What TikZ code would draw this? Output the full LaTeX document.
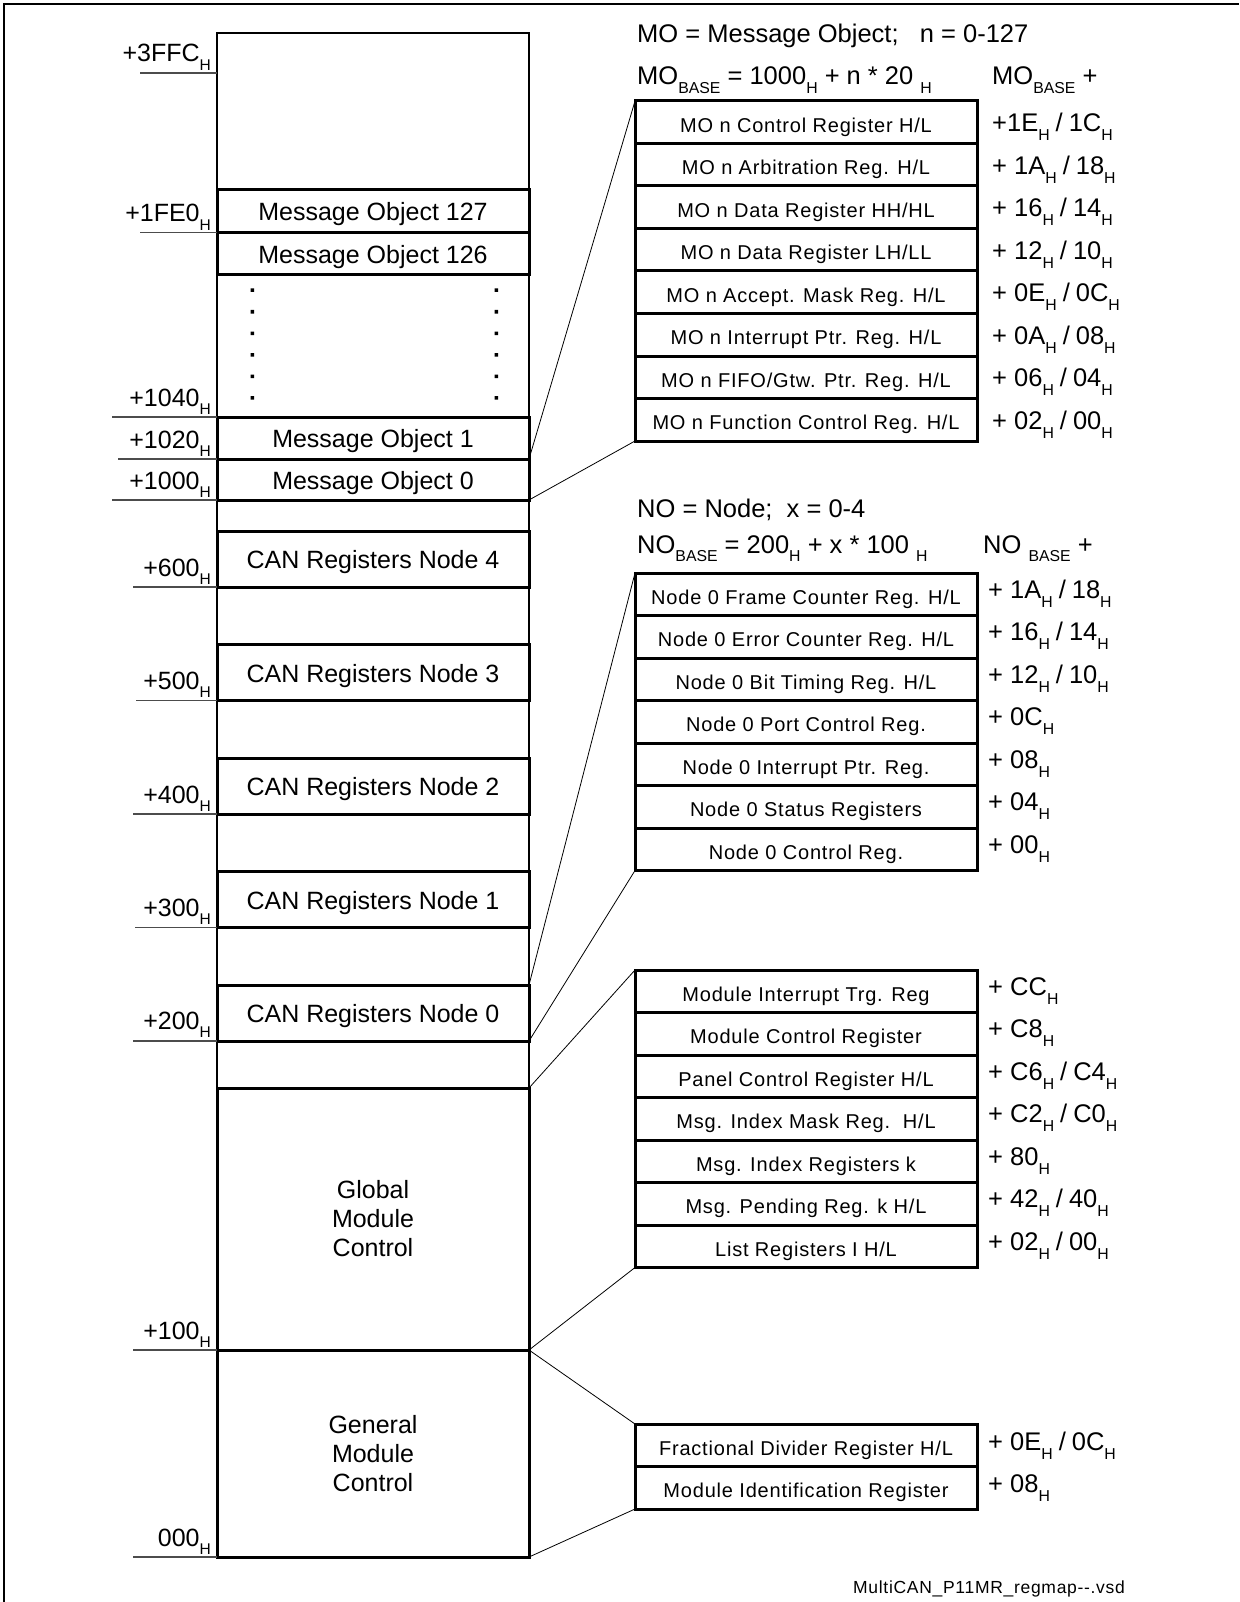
\documentclass[tikz,border=0pt]{standalone}
\usepackage{fontspec}
\setmainfont{Liberation Sans}
\newfontfamily\regfont{Liberation Sans}[LetterSpace=4.0]
\usepackage{graphicx}
\usepackage{tikz}

\newcommand{\subtxt}[1]{\raisebox{-.35em}{\scalebox{.62}{#1}}}
\newcommand{\sls}{\kern6pt/\kern6pt}

\begin{document}
\begin{tikzpicture}[x=1pt, y=-1pt,
  membox/.style={draw, line width=3pt, minimum width=312pt, inner sep=0pt, outer sep=0pt,
                 font=\fontsize{25}{29}\selectfont},
  mobox/.style={membox, text height=22pt, text depth=3pt},
  regbox/.style={draw, line width=3pt, minimum width=342pt, minimum height=42.5pt,
                 inner sep=0pt, outer sep=0pt, font=\regfont\fontsize{20}{24}\selectfont,
                 text height=23pt, text depth=3pt},
  addr/.style={anchor=base east, inner sep=0pt, font=\fontsize{25}{29}\selectfont},
  offs/.style={anchor=base west, inner sep=0pt, font=\fontsize{25.5}{29}\selectfont},
  head/.style={anchor=base west, inner sep=0pt, font=\fontsize{25.5}{29}\selectfont},
  tick/.style={black!70, line width=1.3pt},
  link/.style={line width=0.8pt}]

\useasboundingbox (0,0) rectangle (1239,1602);

% --- cornice ---
\draw[line width=2pt] (4,1602) -- (4,4) -- (1239,4);

% --- colonna della mappa ---
\draw[line width=2pt] (217,33) rectangle (529,1557);
\node[mobox, minimum height=42.5pt] (mo127) at (373,211.25) {Message Object 127};
\node[mobox, minimum height=42.5pt] (mo126) at (373,253.75) {Message Object 126};
\node[mobox, minimum height=42pt] (mo1) at (373,438) {Message Object 1};
\node[mobox, minimum height=41pt] (mo0) at (373,479.5) {Message Object 0};
\node[mobox, minimum height=56pt] (nd4) at (373,559) {CAN Registers Node 4};
\node[mobox, minimum height=56pt] (nd3) at (373,672.5) {CAN Registers Node 3};
\node[mobox, minimum height=56pt] (nd2) at (373,786) {CAN Registers Node 2};
\node[mobox, minimum height=56pt] (nd1) at (373,899.5) {CAN Registers Node 1};
\node[mobox, minimum height=56pt] (nd0) at (373,1013) {CAN Registers Node 0};
\node[membox, minimum height=262pt, align=center] (glob) at (373,1219) {Global\\Module\\Control};
\node[membox, minimum height=207pt, align=center] (gen) at (373,1453.5) {General\\Module\\Control};
% puntini tra MO 126 e MO 1
\fill (250.5,288.5) rectangle ++(3.5,3.5) (250.5,310) rectangle ++(3.5,3.5)
      (250.5,331.5) rectangle ++(3.5,3.5) (250.5,353) rectangle ++(3.5,3.5)
      (250.5,374.5) rectangle ++(3.5,3.5) (250.5,396) rectangle ++(3.5,3.5);
\fill (494.5,288.5) rectangle ++(3.5,3.5) (494.5,310) rectangle ++(3.5,3.5)
      (494.5,331.5) rectangle ++(3.5,3.5) (494.5,353) rectangle ++(3.5,3.5)
      (494.5,374.5) rectangle ++(3.5,3.5) (494.5,396) rectangle ++(3.5,3.5);

% indirizzi a sinistra
\node[addr] (a3ffc) at (211,62) {+3FFC\subtxt{H}};
\node[addr] (a1fe0) at (211,222) {+1FE0\subtxt{H}};
\node[addr] (a1040) at (211,406) {+1040\subtxt{H}};
\node[addr] (a1020) at (211,448) {+1020\subtxt{H}};
\node[addr] (a1000) at (211,489) {+1000\subtxt{H}};
\node[addr] (a600) at (211,576) {+600\subtxt{H}};
\node[addr] (a500) at (211,689) {+500\subtxt{H}};
\node[addr] (a400) at (211,803) {+400\subtxt{H}};
\node[addr] (a300) at (211,916) {+300\subtxt{H}};
\node[addr] (a200) at (211,1029) {+200\subtxt{H}};
\node[addr] (a100) at (211,1339) {+100\subtxt{H}};
\node[addr] (a000) at (211,1546) {000\subtxt{H}};
\draw[tick] (140,73) -- (217,73);
\draw[tick] (mo127.south west) -- ++(-77,0);
\draw[tick] (mo1.north west) -- ++(-105,0);
\draw[tick] (mo1.south west) -- ++(-99,0);
\draw[tick] (mo0.south west) -- ++(-105,0);
\draw[tick] (nd4.south west) -- ++(-84,0);
\draw[tick] (nd3.south west) -- ++(-81,0);
\draw[tick] (nd2.south west) -- ++(-84,0);
\draw[tick] (nd1.south west) -- ++(-82,0);
\draw[tick] (nd0.south west) -- ++(-84,0);
\draw[tick] (gen.north west) -- ++(-84,0);
\draw[tick] (gen.south west) -- ++(-84,0);

% --- Message Object n ---
\node[head] (mohead) at (637,43) {MO = Message Object;\ \ \ n = 0-127};
\node[head] (mobase) at (637,85) {MO\subtxt{BASE} = 1000\subtxt{H} + n * 20 \subtxt{H}};
\node[head] (moplus) at (992,85) {MO\subtxt{BASE} +};
\node[regbox] (mor1) at (806,122.25) {MO n Control Register H/L};
\node[regbox] (mor2) at (806,164.75) {MO n Arbitration Reg. H/L};
\node[regbox] (mor3) at (806,207.25) {MO n Data Register HH/HL};
\node[regbox] (mor4) at (806,249.75) {MO n Data Register LH/LL};
\node[regbox] (mor5) at (806,292.25) {MO n Accept. Mask Reg. H/L};
\node[regbox] (mor6) at (806,334.75) {MO n Interrupt Ptr. Reg. H/L};
\node[regbox] (mor7) at (806,377.25) {MO n FIFO/Gtw. Ptr. Reg. H/L};
\node[regbox] (mor8) at (806,419.75) {MO n Function Control Reg. H/L};
\node[offs] (moo1) at (992,131.7) {+1E\subtxt{H}\sls 1C\subtxt{H}};
\node[offs] (moo2) at (992,174.2) {+ 1A\subtxt{H}\sls 18\subtxt{H}};
\node[offs] (moo3) at (992,216.7) {+ 16\subtxt{H}\sls 14\subtxt{H}};
\node[offs] (moo4) at (992,259.2) {+ 12\subtxt{H}\sls 10\subtxt{H}};
\node[offs] (moo5) at (992,301.7) {+ 0E\subtxt{H}\sls 0C\subtxt{H}};
\node[offs] (moo6) at (992,344.2) {+ 0A\subtxt{H}\sls 08\subtxt{H}};
\node[offs] (moo7) at (992,386.7) {+ 06\subtxt{H}\sls 04\subtxt{H}};
\node[offs] (moo8) at (992,429.2) {+ 02\subtxt{H}\sls 00\subtxt{H}};
\draw[link] (mo0.north east) -- (mor1.north west);
\draw[link] (mo0.south east) -- (mor8.south west);

% --- Node x ---
\node[head] (nohead) at (637,517) {NO = Node;\ \ x = 0-4};
\node[head] (nobase) at (637,553) {NO\subtxt{BASE} = 200\subtxt{H} + x * 100 \subtxt{H}};
\node[head] (noplus) at (983,553) {NO \subtxt{BASE} +};
\node[regbox] (nor1) at (806,594.25) {Node 0 Frame Counter Reg. H/L};
\node[regbox] (nor2) at (806,636.75) {Node 0 Error Counter Reg. H/L};
\node[regbox] (nor3) at (806,679.25) {Node 0 Bit Timing Reg. H/L};
\node[regbox] (nor4) at (806,721.75) {Node 0 Port Control Reg.};
\node[regbox] (nor5) at (806,764.25) {Node 0 Interrupt Ptr. Reg.};
\node[regbox] (nor6) at (806,806.75) {Node 0 Status Registers};
\node[regbox] (nor7) at (806,849.25) {Node 0 Control Reg.};
\node[offs] (noo1) at (988,598.3) {+ 1A\subtxt{H}\sls 18\subtxt{H}};
\node[offs] (noo2) at (988,640.8) {+ 16\subtxt{H}\sls 14\subtxt{H}};
\node[offs] (noo3) at (988,683.3) {+ 12\subtxt{H}\sls 10\subtxt{H}};
\node[offs] (noo4) at (988,725.8) {+ 0C\subtxt{H}};
\node[offs] (noo5) at (988,768.3) {+ 08\subtxt{H}};
\node[offs] (noo6) at (988,810.8) {+ 04\subtxt{H}};
\node[offs] (noo7) at (988,853.3) {+ 00\subtxt{H}};
\draw[link] (nd0.north east) -- (nor1.north west);
\draw[link] (nd0.south east) -- (nor7.south west);

% --- Global Module Control ---
\node[regbox] (gr1) at (806,991.25) {Module Interrupt Trg. Reg};
\node[regbox] (gr2) at (806,1033.75) {Module Control Register};
\node[regbox] (gr3) at (806,1076.25) {Panel Control Register H/L};
\node[regbox] (gr4) at (806,1118.75) {Msg. Index Mask Reg.\ \ H/L};
\node[regbox] (gr5) at (806,1161.25) {Msg. Index Registers k};
\node[regbox] (gr6) at (806,1203.75) {Msg. Pending Reg. k H/L};
\node[regbox] (gr7) at (806,1246.25) {List Registers I H/L};
\node[offs] (go1) at (988,995.3) {+ CC\subtxt{H}};
\node[offs] (go2) at (988,1037.8) {+ C8\subtxt{H}};
\node[offs] (go3) at (988,1080.3) {+ C6\subtxt{H}\sls C4\subtxt{H}};
\node[offs] (go4) at (988,1122.8) {+ C2\subtxt{H}\sls C0\subtxt{H}};
\node[offs] (go5) at (988,1165.3) {+ 80\subtxt{H}};
\node[offs] (go6) at (988,1207.8) {+ 42\subtxt{H}\sls 40\subtxt{H}};
\node[offs] (go7) at (988,1250.3) {+ 02\subtxt{H}\sls 00\subtxt{H}};
\draw[link] (glob.north east) -- (gr1.north west);
\draw[link] (glob.south east) -- (gr7.south west);

% --- General Module Control ---
\node[regbox] (fr1) at (806,1445.25) {Fractional Divider Register H/L};
\node[regbox] (fr2) at (806,1487.75) {Module Identification Register};
\node[offs] (fo1) at (988,1450.3) {+ 0E\subtxt{H}\sls 0C\subtxt{H}};
\node[offs] (fo2) at (988,1492.8) {+ 08\subtxt{H}};
\draw[link] (gen.north east) -- (fr1.north west);
\draw[link] (gen.south east) -- (fr2.south west);

% nome del file
\node[anchor=base west, inner sep=0pt, font=\regfont\fontsize{17.5}{20}\selectfont] (fname)
      at (853,1593) {MultiCAN\_P11MR\_regmap-{}-.vsd};

\end{tikzpicture}
\end{document}
